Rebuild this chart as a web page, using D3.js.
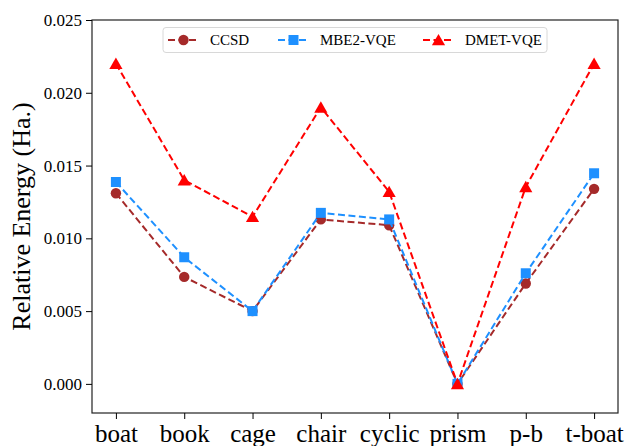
<!DOCTYPE html>
<html><head><meta charset="utf-8">
<script src="https://cdn.jsdelivr.net/npm/d3@7"></script>
<style>body{margin:0;background:#fff}svg{display:block}svg text{font-family:"Liberation Serif",serif !important;fill:#000}</style>
</head><body>
<script>
const categories = ["boat","book","cage","chair","cyclic","prism","p-b","t-boat"];
const ccsd = [0.0131, 0.00735, 0.0050, 0.0113, 0.0109, 0.0, 0.0069, 0.0134];
const mbe2 = [0.01387, 0.0087, 0.0050, 0.01175, 0.0113, 0.0, 0.0076, 0.01447];
const dmet = [0.0220, 0.0140, 0.01148, 0.0190, 0.0132, 0.0, 0.01353, 0.0220];
const yTicks = [0.000, 0.005, 0.010, 0.015, 0.020, 0.025];
const seriesNames = ["CCSD","MBE2-VQE","DMET-VQE"];

const W = 628, H = 446;
const m = {l:92, r:10, t:20, b:33};
const svg = d3.select("body").append("svg").attr("width",W).attr("height",H)
  .attr("font-family","Liberation Serif");
const x = d3.scaleLinear().domain([-0.35, categories.length-1+0.35]).range([m.l, W-m.r]);
const y = d3.scaleLinear().domain([-0.002, 0.025]).range([H-m.b, m.t]);

const g = svg.append("g");
g.append("rect").attr("x",m.l).attr("y",m.t).attr("width",W-m.r-m.l).attr("height",H-m.b-m.t)
 .attr("fill","none").attr("stroke","#222").attr("stroke-width",1.2);

const yAxis = g.append("g").attr("transform",`translate(${m.l},0)`)
 .call(d3.axisLeft(y).tickValues(yTicks).tickFormat(d3.format(".3f")).tickSize(6).tickPadding(4));
yAxis.attr("font-family","Liberation Serif");
yAxis.select(".domain").remove();
yAxis.selectAll("text").attr("font-family","Liberation Serif").style("font-size","17px");
yAxis.selectAll("line").attr("stroke","#000");

const xAxis = g.append("g").attr("transform",`translate(0,${H-m.b})`)
 .call(d3.axisBottom(x).tickValues(d3.range(categories.length)).tickFormat(i=>categories[i]).tickSize(6).tickPadding(5));
xAxis.attr("font-family","Liberation Serif");
xAxis.select(".domain").remove();
xAxis.selectAll("text").attr("font-family","Liberation Serif").style("font-size","25px");
xAxis.selectAll("line").attr("stroke","#000");

svg.append("text").attr("transform",`translate(30,${(m.t+H-m.b)/2}) rotate(-90)`)
 .attr("text-anchor","middle").attr("font-family","Liberation Serif").style("font-size","26px").text("Relative Energy (Ha.)");

const series = [
 {name:seriesNames[0], vals:ccsd, color:"#a52a2a", shape:d3.symbolCircle, size:85},
 {name:seriesNames[1], vals:mbe2, color:"#1e90ff", shape:d3.symbolSquare, size:100},
 {name:seriesNames[2], vals:dmet, color:"#ff0000", shape:d3.symbolTriangle, size:75}
];
const line = d3.line().x((d,i)=>x(i)).y(d=>y(d));
series.forEach(s=>{
  svg.append("path").attr("d",line(s.vals)).attr("fill","none").attr("stroke",s.color)
   .attr("stroke-width",2).attr("stroke-dasharray","7,3.5");
  svg.selectAll(null).data(s.vals).enter().append("path")
   .attr("d",d3.symbol().type(s.shape).size(s.size))
   .attr("transform",(d,i)=>`translate(${x(i)},${y(d)+(s.shape===d3.symbolTriangle?1.5:0)})`)
   .attr("fill",s.color);
});

const lg = svg.append("g");
lg.append("rect").attr("x",163).attr("y",27.5).attr("width",384).attr("height",25).attr("rx",3)
 .attr("fill","#fff").attr("fill-opacity",0.8).attr("stroke","#d8d8d8").attr("stroke-width",1);
const lx = [168, 278, 423];
series.forEach((s,k)=>{
  const gx = lx[k], cy = 40;
  lg.append("line").attr("x1",gx).attr("x2",gx+31).attr("y1",cy).attr("y2",cy)
   .attr("stroke",s.color).attr("stroke-width",2).attr("stroke-dasharray","7,3.5");
  lg.append("path").attr("d",d3.symbol().type(s.shape).size(s.size))
   .attr("transform",`translate(${gx+15.5},${cy+(s.shape===d3.symbolTriangle?1.5:0)})`).attr("fill",s.color);
  lg.append("text").attr("x",gx+42).attr("y",cy+5).attr("font-family","Liberation Serif").style("font-size","15px").text(s.name);
});
</script>
</body></html>
